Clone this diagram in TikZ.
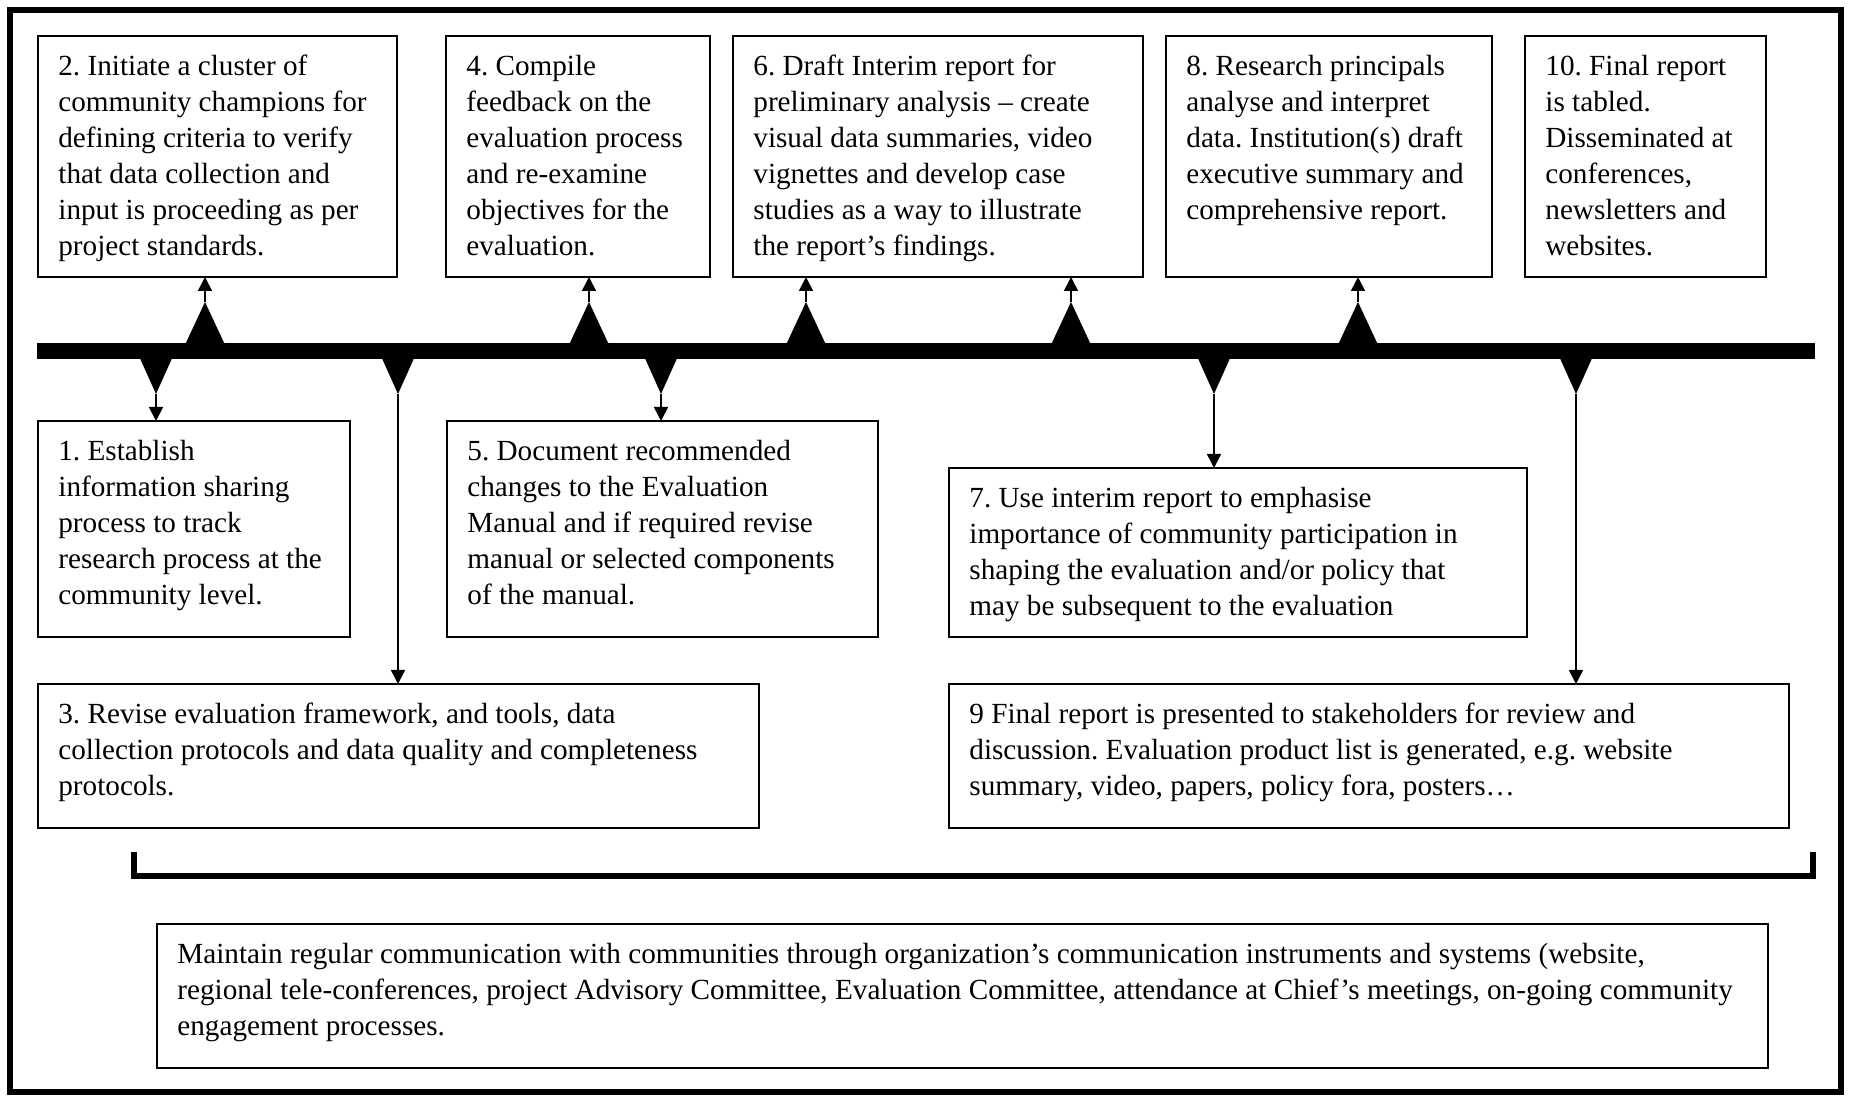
\documentclass[tikz,border=0pt]{standalone}
\usepackage{fontspec}
\setmainfont{Liberation Serif}
\usetikzlibrary{arrows.meta}
\frenchspacing

% A framed panel: #1 name, #2 left, #3 top, #4 right, #5 bottom (pixel units), #6 text
% The strut fixes the first baseline 39 units below the top edge.
\newcommand{\panel}[6]{%
  \node[panelbox, minimum width={(#4-#2)*0.5pt}, minimum height={(#5-#3)*0.5pt}] (#1) at (#2,#3) {};
  \node[paneltext] (#1-text) at ({#2+20},{#3+11}) {\rule{0pt}{14pt}#6};
}

\begin{document}
\begin{tikzpicture}[x=0.5pt, y=-0.5pt,
  panelbox/.style={draw=black, line width=1pt, rectangle, inner sep=0pt, outer sep=0pt, anchor=north west},
  paneltext/.style={inner sep=0pt, anchor=north west, align=left,
    font=\fontsize{14.6}{18.05}\selectfont},
  link/.style={line width=0.85pt, -{Triangle[length=7pt, width=7pt]}},
  marker/.style={fill=black, draw=none},
]
\useasboundingbox (0,0) rectangle (1849,1096);

% outer frame
\draw[line width=2.6pt] (10,10) rectangle (1841,1092);

% upper row of steps
\panel{b2}{38}{36}{397}{277}{2. Initiate a cluster of\\community champions for\\defining criteria to verify\\that data collection and\\input is proceeding as per\\project standards.}
\panel{b4}{446}{36}{710}{277}{4. Compile\\feedback on the\\evaluation process\\and re-examine\\objectives for the\\evaluation.}
\panel{b6}{733}{36}{1143}{277}{6. Draft Interim report for\\preliminary analysis – create\\visual data summaries, video\\vignettes and develop case\\studies as a way to illustrate\\the report’s findings.}
\panel{b8}{1166}{36}{1492}{277}{8. Research principals\\analyse and interpret\\data. Institution(s) draft\\executive summary and\\comprehensive report.}
\panel{b10}{1525}{36}{1766}{277}{10. Final report\\is tabled.\\Disseminated at\\conferences,\\newsletters and\\websites.}

% lower rows of steps
\panel{b1}{38}{421}{350}{637}{1. Establish\\information sharing\\process to track\\research process at the\\community level.}
\panel{b5}{447}{421}{878}{637}{5. Document recommended\\changes to the Evaluation\\Manual and if required revise\\manual or selected components\\of the manual.}
\panel{b7}{949}{468}{1527}{637}{7. Use interim report to emphasise\\importance of community participation in\\shaping the evaluation and/or policy that\\may be subsequent to the evaluation}
\panel{b3}{38}{684}{759}{828}{3. Revise evaluation framework, and tools, data\\collection protocols and data quality and completeness\\protocols.}
\panel{b9}{949}{684}{1789}{828}{9 Final report is presented to stakeholders for review and\\discussion. Evaluation product list is generated, e.g. website\\summary, video, papers, policy fora, posters…}

% ongoing communication
\panel{comm}{157}{924}{1768}{1068}{Maintain regular communication with communities through organization’s communication instruments and systems (website,\\regional tele-conferences, project Advisory Committee, Evaluation Committee, attendance at Chief’s meetings, on-going community\\engagement processes.}

% time line
\node[fill=black, inner sep=0pt, outer sep=0pt, minimum width={(1815-37)*0.5pt}, minimum height=7.6pt, anchor=west] (bar) at (37,351) {};

% upward markers (apex coordinates)
\foreach \n/\x in {u2/205, u4/589, u6a/806, u6b/1071, u8/1358} {
  \fill[marker] (\x-21,347) -- (\x,302) -- (\x+21,347) -- cycle;
  \coordinate (\n) at (\x,302);
}
% downward markers (apex coordinates)
\foreach \n/\x in {d1/156, d3/398, d5/661, d7/1214, d9/1576} {
  \fill[marker] (\x-17.5,355) -- (\x,394) -- (\x+17.5,355) -- cycle;
  \coordinate (\n) at (\x,394);
}

% connectors
\draw[link] (u2) -- (u2 |- b2.south);
\draw[link] (u4) -- (u4 |- b4.south);
\draw[link] (u6a) -- (u6a |- b6.south);
\draw[link] (u6b) -- (u6b |- b6.south);
\draw[link] (u8) -- (u8 |- b8.south);
\draw[link] (d1) -- (d1 |- b1.north);
\draw[link] (d3) -- (d3 |- b3.north);
\draw[link] (d5) -- (d5 |- b5.north);
\draw[link] (d7) -- (d7 |- b7.north);
\draw[link] (d9) -- (d9 |- b9.north);

% bracket spanning the steps
\draw[line width=2.7pt, miter limit=4] (134,852) -- (134,876) -- (1813,876) -- (1813,852);
\end{tikzpicture}
\end{document}
